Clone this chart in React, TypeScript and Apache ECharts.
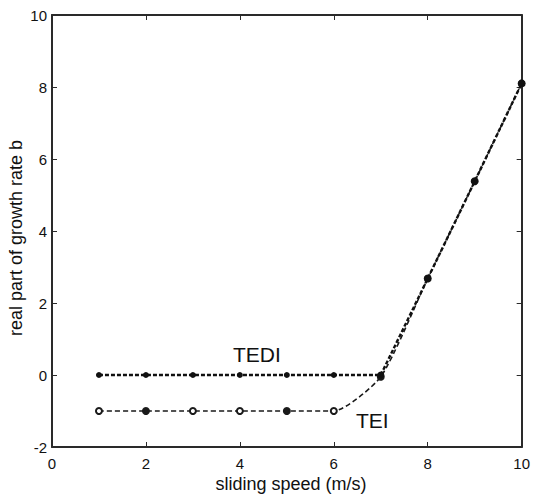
import React, { useEffect, useRef } from "react";
import * as echarts from "echarts";

const speeds = [1, 2, 3, 4, 5, 6, 7, 8, 9, 10];
const tediValues = [0, 0, 0, 0, 0, 0, 0, 2.68, 5.38, 8.1];
const teiValues = [-1, -1, -1, -1, -1, -1, -0.05, 2.68, 5.38, 8.1];
const teiFilled = [false, true, false, false, true, false, true, true, true, true];
const xTicks = [0, 2, 4, 6, 8, 10];
const yTicks = [-2, 0, 2, 4, 6, 8, 10];
const tediBreak = 7; // speed at which TEDI starts to rise

const FONT = "Liberation Sans, Arial, sans-serif";

export default function App() {
  const ref = useRef<HTMLDivElement>(null);
  useEffect(() => {
    if (!ref.current) return;
    const chart = echarts.init(ref.current, null, { renderer: "svg" });
    const axisLine = { show: true, onZero: false, lineStyle: { color: "#2a2a2a", width: 2 } };
    const tick = { show: true, inside: true, length: 5, lineStyle: { color: "#2a2a2a", width: 1 } };
    const tediPairs = speeds.map((s, i) => [s, tediValues[i]]);
    const tediFlat = tediPairs.filter((p) => p[0] <= tediBreak);
    const tediRise = tediPairs.filter((p) => p[0] >= tediBreak);
    const tediLine = { color: "#111", width: 2.4, type: [4, 2] };
    chart.setOption({
      animation: false,
      backgroundColor: "#ffffff",
      grid: { left: 52, right: 8, top: 15, bottom: 49, containLabel: false },
      xAxis: [
        {
          type: "value",
          min: xTicks[0],
          max: xTicks[xTicks.length - 1],
          interval: 2,
          axisLine,
          axisTick: tick,
          splitLine: { show: false },
          axisLabel: { color: "#111", fontSize: 15, fontFamily: FONT, margin: 9 },
        },
        {
          type: "value",
          position: "top",
          min: xTicks[0],
          max: xTicks[xTicks.length - 1],
          interval: 2,
          axisLine,
          axisTick: tick,
          splitLine: { show: false },
          axisLabel: { show: false },
        },
      ],
      yAxis: [
        {
          type: "value",
          min: yTicks[0],
          max: yTicks[yTicks.length - 1],
          interval: 2,
          axisLine,
          axisTick: tick,
          splitLine: { show: false },
          axisLabel: { color: "#111", fontSize: 15, fontFamily: FONT, margin: 5 },
        },
        {
          type: "value",
          position: "right",
          min: yTicks[0],
          max: yTicks[yTicks.length - 1],
          interval: 2,
          axisLine,
          axisTick: tick,
          splitLine: { show: false },
          axisLabel: { show: false },
        },
      ],
      series: [
        {
          name: "TEI",
          type: "line",
          smooth: 0.2,
          data: speeds.map((s, i) => ({
            value: [s, teiValues[i]],
            symbol: teiFilled[i] ? "circle" : "emptyCircle",
          })),
          symbolSize: 6,
          itemStyle: { color: "#1a1a1a", borderColor: "#1a1a1a", borderWidth: 2 },
          lineStyle: { color: "#1a1a1a", width: 1.6, type: [5, 3] },
          z: 2,
        },
        {
          name: "TEDI",
          type: "line",
          data: tediFlat,
          symbol: "circle",
          symbolSize: 6,
          itemStyle: { color: "#111" },
          lineStyle: tediLine,
          z: 3,
        },
        {
          name: "TEDI rise",
          type: "line",
          smooth: 0.3,
          data: tediRise,
          symbol: "circle",
          symbolSize: 7,
          itemStyle: { color: "#111" },
          lineStyle: tediLine,
          z: 3,
        },
      ],
      graphic: [
        {
          type: "text",
          left: 233,
          top: 344,
          style: { text: "TEDI", fontSize: 21, fontFamily: FONT, fill: "#111" },
        },
        {
          type: "text",
          left: 356,
          top: 410,
          style: { text: "TEI", fontSize: 21, fontFamily: FONT, fill: "#111" },
        },
        {
          type: "text",
          x: 291,
          y: 484,
          style: {
            text: "sliding speed (m/s)",
            fontSize: 18,
            fontFamily: FONT,
            fill: "#111",
            align: "center",
            verticalAlign: "middle",
          },
        },
        {
          type: "text",
          x: 16,
          y: 238,
          rotation: Math.PI / 2,
          style: {
            text: "real part of growth rate b",
            fontSize: 18,
            fontFamily: FONT,
            fill: "#111",
            align: "center",
            verticalAlign: "middle",
          },
        },
      ],
    });
    return () => chart.dispose();
  }, []);
  return <div ref={ref} style={{ width: 533, height: 496, position: "absolute", left: 0, top: 0 }} />;
}
